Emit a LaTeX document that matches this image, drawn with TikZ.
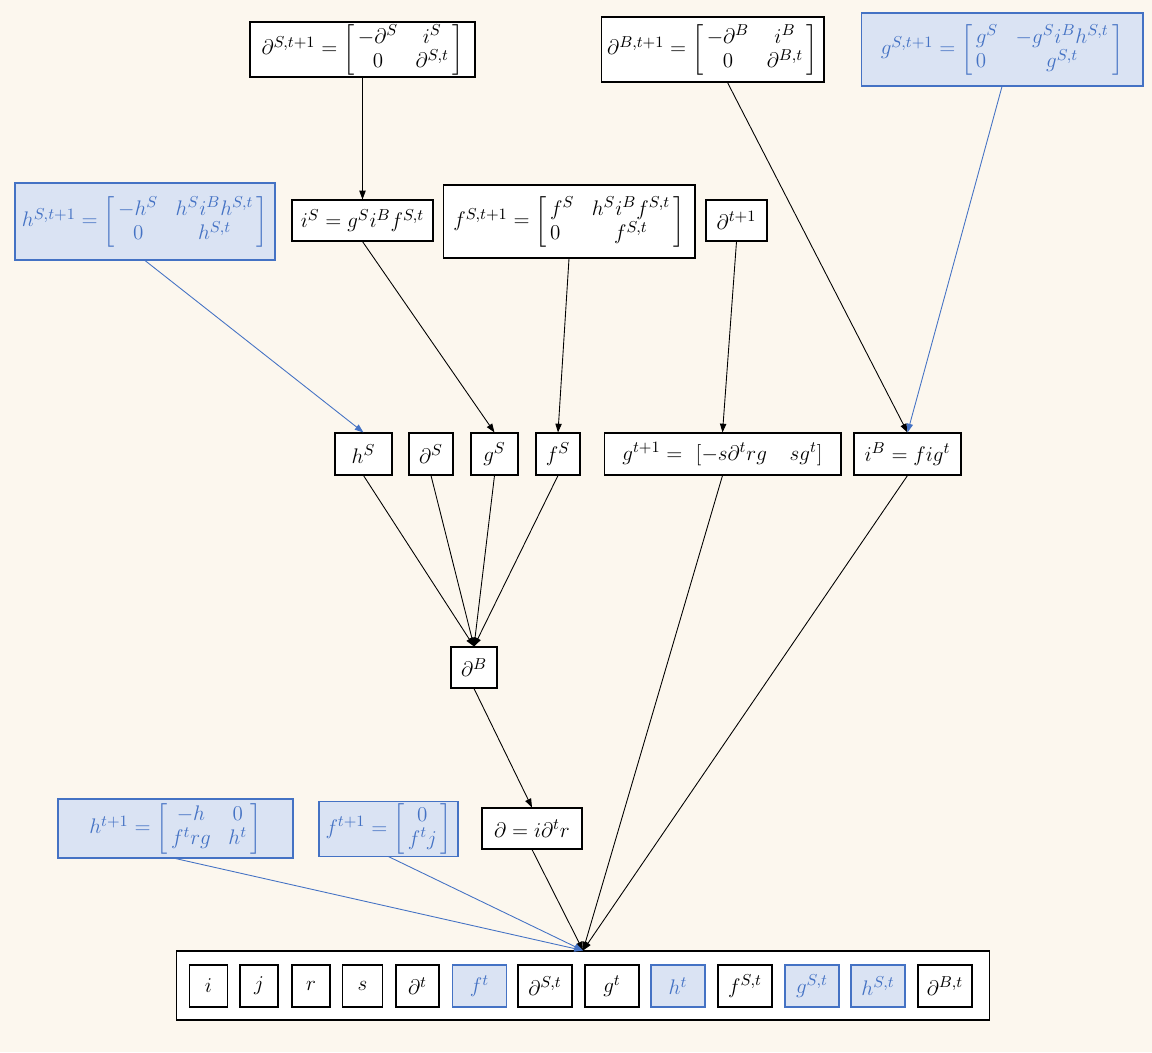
\documentclass[tikz,border=0pt]{standalone}
\usepackage{amsmath}
\usetikzlibrary{arrows.meta}
\definecolor{crema}{HTML}{FCF7EE}
\definecolor{bluscuro}{HTML}{4472C4}
\definecolor{azzurro}{HTML}{DAE3F3}
\renewcommand{\arraystretch}{0.82}
\newcommand{\blk}[2]{\left[\begin{array}{@{\,}#1@{\,}}#2\end{array}\right]}
\tikzset{
  box/.style={draw=black, fill=white, line width=0.6pt, inner sep=1pt, font=\fontsize{13}{15}\selectfont},
  bbox/.style={box, draw=bluscuro, fill=azzurro, text=bluscuro},
  mini/.style={box, minimum height=0.84cm, minimum width=1.08cm},
  bmini/.style={mini, draw=bluscuro, fill=azzurro, text=bluscuro},
  freccia/.style={-{Triangle[length=5pt,width=3.6pt]}, line width=0.5pt},
  bfreccia/.style={freccia, draw=bluscuro},
}
\begin{document}
\begin{tikzpicture}[x=0.02cm, y=-0.02cm]
  % Background
  \fill[crema] (0,0) rectangle (1152,1052);
  % Top row
  \node[box, minimum width=4.5cm, minimum height=1.1cm] (dST1) at (362.5,49.5)
    {$\partial^{S,t+1} = \blk{cc}{-\partial^S & i^S\\ 0 & \partial^{S,t}}$};
  \node[box, minimum width=4.46cm, minimum height=1.3cm] (dBT1) at (712.5,49.5)
    {$\partial^{B,t+1} = \blk{cc}{-\partial^B & i^B\\ 0 & \partial^{B,t}}$};
  \node[bbox, minimum width=5.64cm, minimum height=1.46cm] (gST1) at (1002,49.5)
    {$g^{S,t+1} = \blk{lc}{g^S & -g^S i^B h^{S,t}\\ 0 & g^{S,t}}$};
  % Second row
  \node[bbox, minimum width=5.2cm, minimum height=1.54cm] (hST1) at (145,221.5)
    {$h^{S,t+1} = \blk{cc}{-h^S & h^S i^B h^{S,t}\\ 0 & h^{S,t}}$};
  \node[box, minimum width=2.82cm, minimum height=0.82cm] (iS) at (362.5,220.5)
    {$i^S = g^S i^B f^{S,t}$};
  \node[box, minimum width=5.04cm, minimum height=1.46cm] (fST1) at (569,221.5)
    {$f^{S,t+1} = \blk{lc}{f^S & h^S i^B f^{S,t}\\ 0 & f^{S,t}}$};
  \node[box, minimum width=1.22cm, minimum height=0.82cm] (dT1) at (736.5,220.5)
    {$\partial^{t+1}$};
  % Middle row
  \node[box, minimum width=1.14cm, minimum height=0.84cm] (hS) at (363.5,454) {$h^S$};
  \node[box, minimum width=0.88cm, minimum height=0.84cm] (dS) at (431,454) {$\partial^S$};
  \node[box, minimum width=0.94cm, minimum height=0.84cm] (gS) at (494.5,454) {$g^S$};
  \node[box, minimum width=0.88cm, minimum height=0.84cm] (fS) at (558,454) {$f^S$};
  \node[box, minimum width=4.74cm, minimum height=0.84cm] (gT1) at (722.5,454)
    {$g^{t+1} = \ [-s\partial^t rg \quad sg^t]$};
  \node[box, minimum width=2.14cm, minimum height=0.84cm] (iB) at (907.5,454) {$i^B = fig^t$};
  % Lower part
  \node[box, minimum width=0.92cm, minimum height=0.82cm] (dB) at (474,667.5) {$\partial^B$};
  \node[box, minimum width=2cm, minimum height=0.82cm] (d) at (532,828.5) {$\partial = i\partial^t r$};
  \node[bbox, minimum width=4.7cm, minimum height=1.18cm] (hT1) at (175.5,828.5)
    {$h^{t+1} = \blk{cc}{-h & 0\\ f^t rg & h^t}$};
  \node[bbox, minimum width=2.78cm, minimum height=1.08cm] (fT1) at (388.5,829)
    {$f^{t+1} = \blk{c}{0\\ f^t j}$};
  % Bottom row
  \node[box, minimum width=16.28cm, minimum height=1.38cm] (cont) at (583,985.5) {};
  \node[mini, minimum width=0.76cm] (i) at (208.5,986) {$i$};
  \node[mini, minimum width=0.76cm] (j) at (259,986) {$j$};
  \node[mini, minimum width=0.76cm] (r) at (311,986) {$r$};
  \node[mini, minimum width=0.8cm] (s) at (362.5,986) {$s$};
  \node[mini, minimum width=0.86cm] (dt) at (417.5,986) {$\partial^t$};
  \node[bmini] (ft) at (479.5,986) {$f^t$};
  \node[mini] (dSt) at (545,986) {$\partial^{S,t}$};
  \node[mini] (gt) at (612,986) {$g^t$};
  \node[bmini] (ht) at (678,986) {$h^t$};
  \node[mini] (fSt) at (745,986) {$f^{S,t}$};
  \node[bmini] (gSt) at (812,986) {$g^{S,t}$};
  \node[bmini] (hSt) at (878,986) {$h^{S,t}$};
  \node[mini] (dBt) at (945,986) {$\partial^{B,t}$};
  % Connectors
  \draw[freccia] (dST1.south) -- (iS.north);
  \draw[freccia] (iS.south) -- (gS.north);
  \draw[freccia] (fST1.south) -- (fS.north);
  \draw[freccia] (dT1.south) -- (gT1.north);
  \draw[freccia] ([xshift=0.3cm]dBT1.south) -- (iB.north);
  \draw[bfreccia] (gST1.south) -- (iB.north);
  \draw[bfreccia] (hST1.south) -- (hS.north);
  \draw[freccia] (hS.south) -- (dB.north);
  \draw[freccia] (dS.south) -- (dB.north);
  \draw[freccia] (gS.south) -- (dB.north);
  \draw[freccia] (fS.south) -- (dB.north);
  \draw[freccia] (dB.south) -- (d.north);
  \draw[freccia] (d.south) -- (cont.north);
  \draw[freccia] (gT1.south) -- (cont.north);
  \draw[freccia] (iB.south) -- (cont.north);
  \draw[bfreccia] (hT1.south) -- (cont.north);
  \draw[bfreccia] (fT1.south) -- (cont.north);
\end{tikzpicture}
\end{document}
